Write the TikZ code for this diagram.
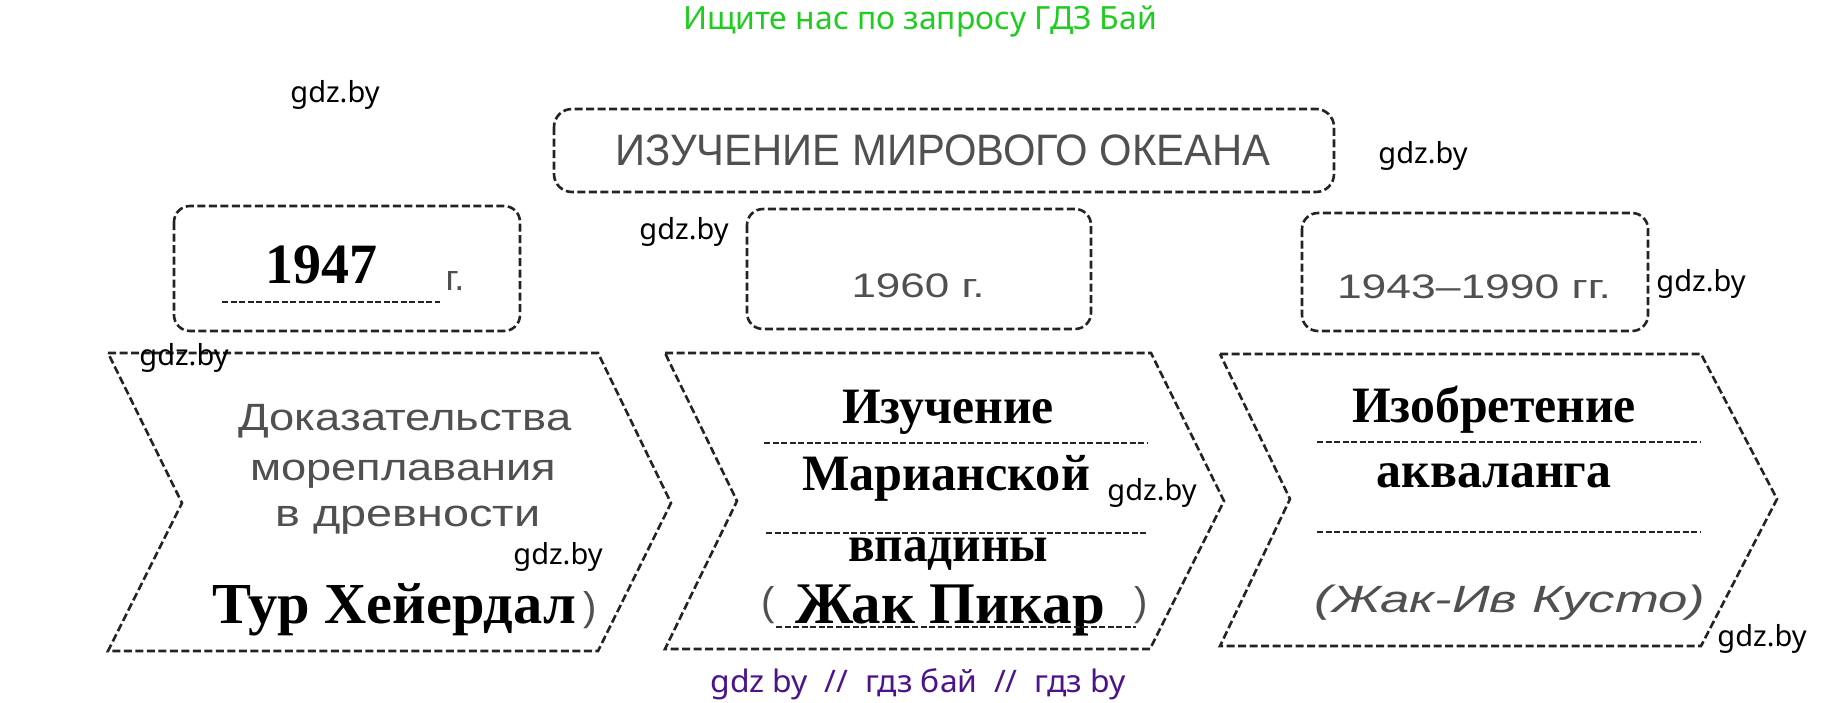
\documentclass[tikz,border=0pt]{standalone}
\usepackage{fontspec}
\usepackage{graphicx}
\setmainfont{Liberation Serif}
\newfontfamily\wmfont{Noto Sans}
\newfontfamily\handfont{Liberation Sans}
\definecolor{wmgreen}{RGB}{30,205,30}
\definecolor{wmpurple}{RGB}{75,20,140}
\definecolor{ink}{RGB}{35,35,35}
\definecolor{pencil}{RGB}{80,80,80}
\newcommand\fitw[2]{\resizebox{#1}{\height}{#2}}
\begin{document}
\begin{tikzpicture}[x=1pt,y=-1pt,
  frame/.style={draw=ink, line width=2.6pt, dash pattern=on 8pt off 3.5pt},
  rulel/.style={draw=ink, line width=1.9pt, dash pattern=on 6pt off 2.5pt},
  wm/.style={font=\wmfont\fontsize{29}{32}\selectfont, text=black, inner sep=0pt},
  boldtxt/.style={font=\bfseries\fontsize{51}{56}\selectfont, inner sep=0pt, anchor=base},
  bigtxt/.style={font=\bfseries\fontsize{59}{64}\selectfont, inner sep=0pt, anchor=base},
  hand/.style={font=\handfont\fontsize{36}{40}\selectfont, text=pencil, inner sep=0pt, anchor=base},
]
\useasboundingbox[fill=white] (0,0) rectangle (1838,702);

% header / footer
\node[inner sep=0pt, anchor=base, text=wmgreen, font=\wmfont\fontsize{32}{36}\selectfont] (head) at (920,29) {\fitw{474pt}{Ищите нас по запросу ГДЗ Бай}};
\node[inner sep=0pt, anchor=base, text=wmpurple, font=\wmfont\fontsize{31}{36}\selectfont] (foot) at (918,692) {\fitw{415pt}{gdz by\ \ //\ \ гдз бай\ \ //\ \ гдз by}};

% title box
\draw[frame, rounded corners=18pt] (554,109) rectangle (1334,192);
\node[hand, font=\handfont\fontsize{44}{48}\selectfont] (title) at (943,165) {\fitw{655pt}{ИЗУЧЕНИЕ МИРОВОГО ОКЕАНА}};

% year boxes
\draw[frame, rounded corners=16pt] (174,206) rectangle (520,331);
\draw[frame, rounded corners=16pt] (747,209) rectangle (1091,329);
\draw[frame, rounded corners=16pt] (1302,213) rectangle (1648,331);

\node[bigtxt, font=\bfseries\fontsize{57}{60}\selectfont] (y1) at (321,283) {\fitw{112pt}{1947}};
\draw[rulel] (222,302) -- (440,302);
\node[hand, font=\handfont\fontsize{36}{40}\selectfont] (y1g) at (455,290) {г.};
\node[hand, font=\handfont\fontsize{34}{38}\selectfont] (y2) at (918,297) {\fitw{133pt}{1960 г.}};
\node[hand, font=\handfont\fontsize{34}{38}\selectfont] (y3) at (1474,298) {\fitw{274pt}{1943–1990 гг.}};

% chevrons
\draw[frame] (108,353) -- (598,353) -- (671,503) -- (598,651) -- (108,651) -- (182,503) -- cycle;
\draw[frame] (665,353) -- (1151,353) -- (1224,501) -- (1150,649) -- (665,649) -- (737,501) -- cycle;
\draw[frame] (1220,354) -- (1701,354) -- (1777,499) -- (1701,646) -- (1220,646) -- (1290,499) -- cycle;

% chevron 1
\node[hand, font=\handfont\fontsize{38}{42}\selectfont] (c1a) at (405,430) {\fitw{333pt}{Доказательства}};
\node[hand, font=\handfont\fontsize{38}{42}\selectfont] (c1b) at (403,480) {\fitw{306pt}{мореплавания}};
\node[hand, font=\handfont\fontsize{38}{42}\selectfont] (c1c) at (408,526) {\fitw{265pt}{в древности}};
\node[bigtxt, font=\bfseries\fontsize{58}{62}\selectfont] (c1d) at (394,623) {\fitw{364pt}{Тур Хейердал}};
\node[hand, font=\handfont\fontsize{40}{44}\selectfont] (c1p) at (590,620) {)};

% chevron 2
\node[boldtxt] (c2a) at (948,423) {\fitw{212pt}{Изучение}};
\draw[rulel] (764,443) -- (1148,443);
\node[boldtxt] (c2b) at (946,490) {\fitw{288pt}{Марианской}};
\draw[rulel] (766,533) -- (1148,533);
\node[boldtxt] (c2c) at (948,561) {\fitw{200pt}{впадины}};
\node[bigtxt] (c2d) at (950,623) {\fitw{310pt}{Жак Пикар}};
\draw[rulel] (776,627) -- (1136,627);
\node[hand, font=\handfont\fontsize{40}{44}\selectfont] (c2l) at (768,615) {(};
\node[hand, font=\handfont\fontsize{40}{44}\selectfont] (c2r) at (1141,615) {)};

% chevron 3
\node[boldtxt] (c3a) at (1494,422) {\fitw{284pt}{Изобретение}};
\draw[rulel] (1317,442) -- (1701,442);
\node[boldtxt] (c3b) at (1494,487) {\fitw{235pt}{акваланга}};
\draw[rulel] (1317,532) -- (1701,532);
\node[hand, font=\handfont\itshape\fontsize{38}{42}\selectfont] (c3c) at (1510,612) {\fitw{391pt}{(Жак-Ив Кусто)}};

% watermarks
\node[wm] (w1) at (335,95) {gdz.by};
\node[wm] (w2) at (1423,156) {gdz.by};
\node[wm] (w3) at (684,232) {gdz.by};
\node[wm] (w4) at (1701,284) {gdz.by};
\node[wm] (w5) at (184,358) {gdz.by};
\node[wm] (w6) at (558,557) {gdz.by};
\node[wm] (w7) at (1152,493) {gdz.by};
\node[wm] (w8) at (1762,639) {gdz.by};
\end{tikzpicture}
\end{document}
